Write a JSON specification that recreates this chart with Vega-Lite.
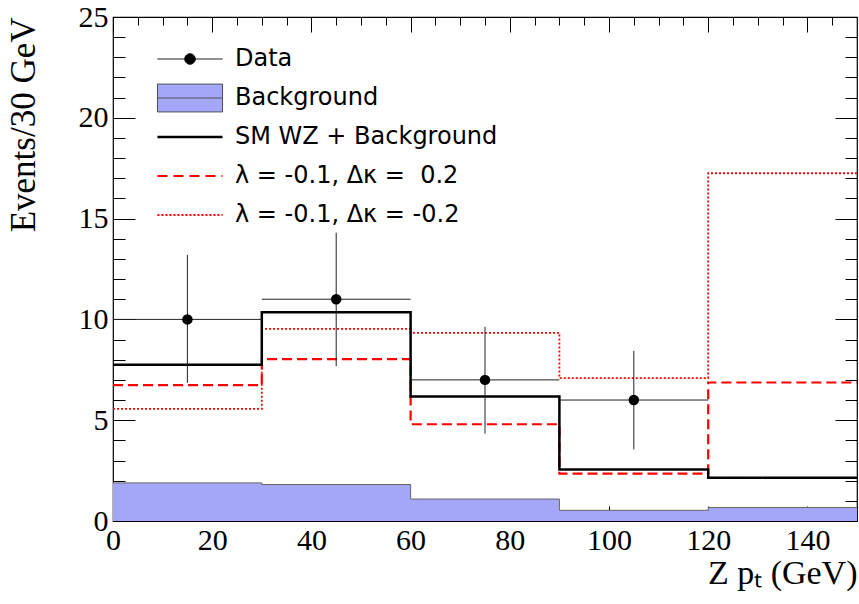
{
  "$schema": "https://vega.github.io/schema/vega-lite/v6.json",
  "width": 744,
  "height": 504,
  "autosize": "none",
  "padding": {"left": 113, "top": 17, "right": 2, "bottom": 83},
  "background": "white",
  "config": {
    "view": {"stroke": "black", "strokeWidth": 1.2},
    "axis": {"grid": false, "domain": false, "ticks": true, "zindex": 1, "tickColor": "black", "tickWidth": 1, "tickOpacity": 1}
  },
  "datasets": {
    "hist": [
      {"series": "Background", "x": 0, "y": 1.89},
      {"series": "Background", "x": 30, "y": 1.81},
      {"series": "Background", "x": 60, "y": 1.09},
      {"series": "Background", "x": 90, "y": 0.53},
      {"series": "Background", "x": 120, "y": 0.67},
      {"series": "Background", "x": 150, "y": 0.67},
      {"series": "SM WZ + Background", "x": 0, "y": 7.75},
      {"series": "SM WZ + Background", "x": 30, "y": 10.35},
      {"series": "SM WZ + Background", "x": 60, "y": 6.18},
      {"series": "SM WZ + Background", "x": 90, "y": 2.55},
      {"series": "SM WZ + Background", "x": 120, "y": 2.15},
      {"series": "SM WZ + Background", "x": 150, "y": 2.15},
      {"series": "λ = -0.1, Δκ =\u00a0\u00a00.2", "x": 0, "y": 6.74},
      {"series": "λ = -0.1, Δκ =\u00a0\u00a00.2", "x": 30, "y": 8.03},
      {"series": "λ = -0.1, Δκ =\u00a0\u00a00.2", "x": 60, "y": 4.8},
      {"series": "λ = -0.1, Δκ =\u00a0\u00a00.2", "x": 90, "y": 2.35},
      {"series": "λ = -0.1, Δκ =\u00a0\u00a00.2", "x": 120, "y": 6.87},
      {"series": "λ = -0.1, Δκ =\u00a0\u00a00.2", "x": 150, "y": 6.87},
      {"series": "λ = -0.1, Δκ = -0.2", "x": 0, "y": 5.56},
      {"series": "λ = -0.1, Δκ = -0.2", "x": 30, "y": 9.53},
      {"series": "λ = -0.1, Δκ = -0.2", "x": 60, "y": 9.33},
      {"series": "λ = -0.1, Δκ = -0.2", "x": 90, "y": 7.09},
      {"series": "λ = -0.1, Δκ = -0.2", "x": 120, "y": 17.25},
      {"series": "λ = -0.1, Δκ = -0.2", "x": 150, "y": 17.25}
    ],
    "points": [
      {"x": 15, "y": 10, "ylo": 6.85, "yhi": 13.2, "xlo": 0, "xhi": 30},
      {"x": 45, "y": 11, "ylo": 7.68, "yhi": 14.3, "xlo": 30, "xhi": 60},
      {"x": 75, "y": 7, "ylo": 4.34, "yhi": 9.63, "xlo": 60, "xhi": 90},
      {"x": 105, "y": 6, "ylo": 3.55, "yhi": 8.44, "xlo": 90, "xhi": 120}
    ]
  },
  "resolve": {
    "scale": {"x": "independent", "y": "independent"},
    "axis": {"x": "independent", "y": "independent"}
  },
  "layer": [
    {
      "data": {"name": "hist"},
      "transform": [{"filter": "datum.series === 'Background'"}],
      "mark": {"type": "area", "interpolate": "step-after", "fill": "#a4a6f8", "opacity": 1},
      "encoding": {
        "x": {
          "field": "x", "type": "quantitative",
          "scale": {"domain": [0, 150], "nice": false, "zero": false},
          "axis": {
            "orient": "bottom",
            "values": [0, 20, 40, 60, 80, 100, 120, 140],
            "offset": -15, "tickSize": 15,
            "labelFont": "Liberation Serif", "labelFontSize": 30, "labelColor": "black",
            "labelPadding": 4, "labelFlush": false, "labelOverlap": false,
            "title": "Z pₜ (GeV)", "titleAnchor": "end", "titleFont": "Liberation Serif",
            "titleFontSize": 34, "titleFontWeight": "normal", "titleColor": "black", "titlePadding": 1
          }
        },
        "y": {
          "field": "y", "type": "quantitative",
          "scale": {"domain": [0, 25], "nice": false, "zero": false},
          "axis": {
            "orient": "left",
            "values": [0, 5, 10, 15, 20, 25],
            "offset": -22, "tickSize": 22,
            "labelFont": "Liberation Serif", "labelFontSize": 30, "labelColor": "black",
            "labelPadding": 5, "labelFlush": false, "labelOverlap": false,
            "title": "Events/30 GeV", "titleAnchor": "end", "titleFont": "Liberation Serif",
            "titleFontSize": 35, "titleFontWeight": "normal", "titleColor": "black", "titlePadding": 37
          }
        }
      }
    },
    {
      "data": {"name": "hist"},
      "transform": [{"filter": "datum.series === 'Background'"}],
      "mark": {"type": "line", "interpolate": "step-after", "color": "#666666", "strokeWidth": 1},
      "encoding": {
        "x": {
          "field": "x", "type": "quantitative",
          "scale": {"domain": [0, 150], "nice": false, "zero": false},
          "axis": {"orient": "top", "values": [0, 20, 40, 60, 80, 100, 120, 140], "offset": -15, "tickSize": 15, "labels": false, "title": null}
        },
        "y": {
          "field": "y", "type": "quantitative",
          "scale": {"domain": [0, 25], "nice": false, "zero": false},
          "axis": {"orient": "right", "values": [0, 5, 10, 15, 20, 25], "offset": -22, "tickSize": 22, "labels": false, "title": null}
        }
      }
    },
    {
      "data": {"name": "hist"},
      "transform": [{"filter": "datum.series === 'λ = -0.1, Δκ = -0.2'"}],
      "mark": {"type": "line", "interpolate": "step-after", "color": "#ff0000", "strokeWidth": 1.8, "strokeDash": [2, 2]},
      "encoding": {
        "x": {
          "field": "x", "type": "quantitative",
          "scale": {"domain": [0, 150], "nice": false, "zero": false},
          "axis": {"orient": "bottom", "values": [5,10,15,25,30,35,45,50,55,65,70,75,85,90,95,105,110,115,125,130,135,145], "offset": -8, "tickSize": 8, "labels": false, "title": null}
        },
        "y": {
          "field": "y", "type": "quantitative",
          "scale": {"domain": [0, 25], "nice": false, "zero": false},
          "axis": {"orient": "left", "values": [1,2,3,4,6,7,8,9,11,12,13,14,16,17,18,19,21,22,23,24], "offset": -12, "tickSize": 12, "labels": false, "title": null}
        }
      }
    },
    {
      "data": {"name": "hist"},
      "transform": [{"filter": "datum.series === 'λ = -0.1, Δκ =\u00a0\u00a00.2'"}],
      "mark": {"type": "line", "interpolate": "step-after", "color": "#ff0000", "strokeWidth": 2.2, "strokeDash": [10, 5]},
      "encoding": {
        "x": {
          "field": "x", "type": "quantitative",
          "scale": {"domain": [0, 150], "nice": false, "zero": false},
          "axis": {"orient": "top", "values": [5,10,15,25,30,35,45,50,55,65,70,75,85,90,95,105,110,115,125,130,135,145], "offset": -8, "tickSize": 8, "labels": false, "title": null}
        },
        "y": {
          "field": "y", "type": "quantitative",
          "scale": {"domain": [0, 25], "nice": false, "zero": false},
          "axis": {"orient": "right", "values": [1,2,3,4,6,7,8,9,11,12,13,14,16,17,18,19,21,22,23,24], "offset": -12, "tickSize": 12, "labels": false, "title": null}
        }
      }
    },
    {
      "data": {"name": "hist"},
      "transform": [{"filter": "datum.series === 'SM WZ + Background'"}],
      "mark": {"type": "line", "interpolate": "step-after", "strokeWidth": 2.5, "strokeJoin": "miter"},
      "encoding": {
        "x": {"field": "x", "type": "quantitative", "scale": {"domain": [0, 150], "nice": false, "zero": false}, "axis": null},
        "y": {"field": "y", "type": "quantitative", "scale": {"domain": [0, 25], "nice": false, "zero": false}, "axis": null},
        "stroke": {
          "field": "series", "type": "nominal",
          "scale": {
            "domain": ["Data", "Background", "SM WZ + Background", "λ = -0.1, Δκ =\u00a0\u00a00.2", "λ = -0.1, Δκ = -0.2"],
            "range": ["black", "#444444", "black", "#ff0000", "#ff0000"]
          },
          "legend": {
            "title": null,
            "orient": "none",
            "legendX": 65,
            "legendY": 30,
            "padding": 0,
            "gridAlign": "all",
            "labelFont": "DejaVu Sans",
            "labelFontSize": 24,
            "labelColor": "black",
            "labelLimit": 500,
            "symbolSize": 900,
            "rowPadding": 7,
            "labelOffset": 33,
            "encode": {
              "symbols": {
                "update": {
                  "shape": {"signal": "datum.index === 0 ? 'M-2.17,0L2.17,0M0.35,0A0.35,0.35,0,1,1,-0.35,0A0.35,0.35,0,1,1,0.35,0Z' : datum.index === 1 ? 'M-2.17,-0.93L2.17,-0.93L2.17,0.93L-2.17,0.93ZM-2.17,0L2.17,0' : 'M-2.17,0L2.17,0'"},
                  "fill": {"signal": "datum.index === 0 ? 'black' : datum.index === 1 ? '#a4a6f8' : 'transparent'"},
                  "strokeWidth": {"signal": "datum.index === 2 ? 2.5 : datum.index <= 1 ? 1 : 2"},
                  "opacity": {"value": 1}
                }
              }
            }
          }
        },
        "strokeDash": {
          "field": "series", "type": "nominal",
          "scale": {
            "domain": ["Data", "Background", "SM WZ + Background", "λ = -0.1, Δκ =\u00a0\u00a00.2", "λ = -0.1, Δκ = -0.2"],
            "range": [[1, 0], [1, 0], [1, 0], [10, 6], [2, 2]]
          }
        }
      }
    },
    {
      "data": {"name": "points"},
      "mark": {"type": "rule", "color": "#222222", "strokeWidth": 1},
      "encoding": {
        "x": {"field": "x", "type": "quantitative", "scale": {"domain": [0, 150], "nice": false, "zero": false}, "axis": null},
        "y": {"field": "ylo", "type": "quantitative", "scale": {"domain": [0, 25], "nice": false, "zero": false}, "axis": null},
        "y2": {"field": "yhi"}
      }
    },
    {
      "data": {"name": "points"},
      "mark": {"type": "rule", "color": "#222222", "strokeWidth": 1},
      "encoding": {
        "x": {"field": "xlo", "type": "quantitative", "scale": {"domain": [0, 150], "nice": false, "zero": false}, "axis": null},
        "x2": {"field": "xhi"},
        "y": {"field": "y", "type": "quantitative", "scale": {"domain": [0, 25], "nice": false, "zero": false}, "axis": null}
      }
    },
    {
      "data": {"name": "points"},
      "mark": {"type": "circle", "color": "black", "opacity": 1, "size": 110},
      "encoding": {
        "x": {"field": "x", "type": "quantitative", "scale": {"domain": [0, 150], "nice": false, "zero": false}, "axis": null},
        "y": {"field": "y", "type": "quantitative", "scale": {"domain": [0, 25], "nice": false, "zero": false}, "axis": null}
      }
    }
  ]
}
